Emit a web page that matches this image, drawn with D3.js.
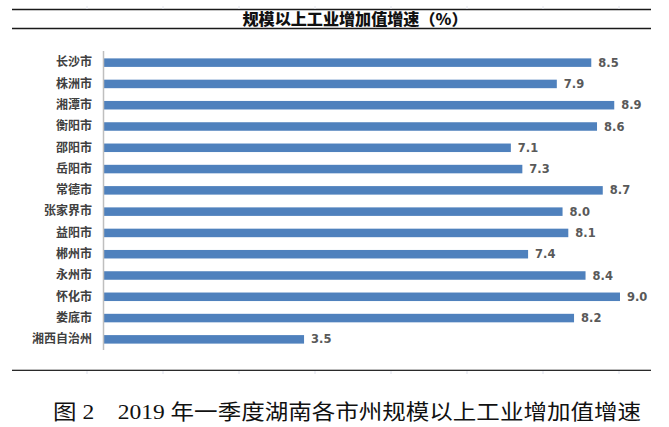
<!DOCTYPE html>
<html><head><meta charset="utf-8">
<script src="https://cdn.jsdelivr.net/npm/d3@7"></script>
<style>body{margin:0;background:#fff}svg{display:block}</style>
</head><body>
<svg id="c" width="669" height="427"></svg>
<script>
const cities = ["长沙市","株洲市","湘潭市","衡阳市","邵阳市","岳阳市","常德市","张家界市","益阳市","郴州市","永州市","怀化市","娄底市","湘西自治州"];
const growth = [8.5,7.9,8.9,8.6,7.1,7.3,8.7,8.0,8.1,7.4,8.4,9.0,8.2,3.5];
const title = "规模以上工业增加值增速（%）";
const caption = "图 2　2019 年一季度湖南各市州规模以上工业增加值增速";
const gridMarks = [1,2,3,4,5,6,7,8];

const svg = d3.select("#c");
const cjk = "'Noto Sans CJK SC','Noto Sans',sans-serif";

// frame lines
svg.append("line").attr("x1",12).attr("x2",651).attr("y1",9.5).attr("y2",9.5).attr("stroke","#1a1a1a").attr("stroke-width",1.5);
svg.append("line").attr("x1",12).attr("x2",651).attr("y1",28.5).attr("y2",28.5).attr("stroke","#1a1a1a").attr("stroke-width",1.5);
svg.append("line").attr("x1",12).attr("x2",651).attr("y1",369.5).attr("y2",369.5).attr("stroke","#bbb").attr("stroke-width",1);
svg.append("line").attr("x1",12).attr("x2",651).attr("y1",370.5).attr("y2",370.5).attr("stroke","#2a2a2a").attr("stroke-width",1.2);
const gx = d3.scaleLinear().domain([0,1]).range([11,87]);
svg.selectAll(".gm").data(gridMarks).join("g").each(function(d){
  const g=d3.select(this);
  g.append("line").attr("x1",gx(d)).attr("x2",gx(d)).attr("y1",6).attr("y2",9).attr("stroke","#e4e6ee");
  g.append("line").attr("x1",gx(d)).attr("x2",gx(d)).attr("y1",371).attr("y2",374).attr("stroke","#dde0ec");
});

svg.append("text").attr("x",355).attr("y",25).attr("text-anchor","middle")
  .style("font-family",cjk).style("font-weight","900").style("font-size","15.5px").attr("fill","#111")
  .attr("textLength",225).attr("lengthAdjust","spacingAndGlyphs").text(title);

const x = d3.scaleLinear().domain([0,9]).range([103,620]);
const y = d3.scaleBand().domain(cities).range([52,350]).paddingInner(0.6).paddingOuter(0.3);

svg.append("g").selectAll("rect").data(cities).join("rect")
  .attr("x",x(0)+1).attr("y",d=>y(d)).attr("height",y.bandwidth())
  .attr("width",(d,i)=>x(growth[i])-x(0)-1).attr("fill","#4F81BD");

const yAxis = svg.append("g").attr("transform",`translate(${x(0)},0)`).call(d3.axisLeft(y).tickSize(0).tickPadding(11));
yAxis.select(".domain").attr("stroke","#bfbfbf").attr("stroke-width",1.5).attr("d","M0.5,51V350");
yAxis.selectAll("text").style("font-family",cjk).style("font-weight","bold").style("font-size","12px").attr("fill","#404040");

svg.append("g").selectAll("text").data(cities).join("text")
  .attr("x",(d,i)=>x(growth[i])+7).attr("y",d=>y(d)+y.bandwidth()/2).attr("dy","0.36em")
  .style("font-family","'DejaVu Sans',sans-serif").style("font-weight","bold").style("font-size","11.5px").attr("fill","#595959")
  .text((d,i)=>d3.format(".1f")(growth[i]));

svg.append("text").attr("x",53).attr("y",419)
  .style("font-family","'Liberation Serif','Noto Sans CJK SC',serif").style("font-size","21px").attr("fill","#111")
  .attr("textLength",588).attr("lengthAdjust","spacingAndGlyphs").text(caption);
</script>
</body></html>
